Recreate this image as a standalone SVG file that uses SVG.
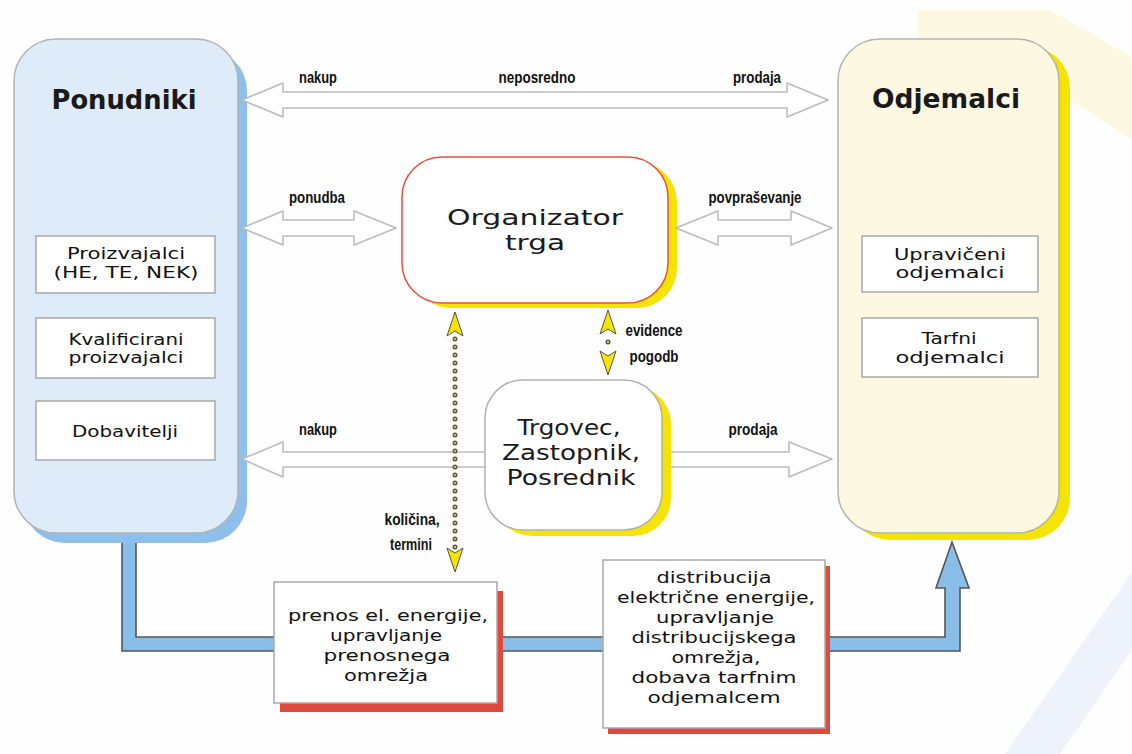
<svg xmlns="http://www.w3.org/2000/svg" width="1132" height="754" viewBox="0 0 1132 754">
<defs>
<style>
.bg{fill:#fefefe}
.big{font-family:"DejaVu Sans","Liberation Sans",sans-serif;font-weight:bold;font-size:26px;fill:#1a1a1a;text-anchor:middle}
.mid{font-family:"DejaVu Sans","Liberation Sans",sans-serif;font-size:21px;fill:#1a1a1a;text-anchor:middle}
.sm{font-family:"DejaVu Sans","Liberation Sans",sans-serif;font-size:16px;fill:#111;text-anchor:middle}
.lbl{font-family:"Liberation Sans",Arial,sans-serif;font-weight:bold;font-size:17px;fill:#111;text-anchor:middle}
.inner{fill:#ffffff;stroke:#a8a8a8;stroke-width:1.5}
.hollow{fill:#ffffff;stroke:#bcbcbc;stroke-width:1.6;stroke-linejoin:round}
.pipe{fill:#88bee8;stroke:#555;stroke-width:1.6;stroke-linejoin:miter}
.yhead{fill:#f4e400;stroke:#555;stroke-width:1}
.dots1{stroke:#555;stroke-width:5;stroke-dasharray:0 8;stroke-linecap:round;fill:none}
.dots2{stroke:#f4e400;stroke-width:2.2;stroke-dasharray:0 8;stroke-linecap:round;fill:none}
</style>
</defs>
<rect class="bg" x="0" y="0" width="1132" height="754"/>
<g id="background">
<polygon points="918,10 1050,10 1132,57 1132,140 1070,100 918,100" fill="#fdf8e1"/>
<polygon points="1005,754 1132,572 1132,650 1060,754" fill="#eef3fb"/>
</g>
<g id="pipes">
<path class="pipe" d="M122,540 L136,540 L136,637 L277,637 L277,651 L122,651 Z"/>
<path class="pipe" d="M494,637 L606,637 L606,651 L494,651 Z"/>
<path class="pipe" d="M822,637 L945,637 L945,588 L936,588 L952,542 L969,588 L960,588 L960,651 L822,651 Z"/>
</g>
<g id="ponudniki">
<rect x="23" y="49" width="224" height="494" rx="42" fill="#8cc0ea"/>
<rect x="14" y="39" width="224" height="494" rx="42" fill="#deebf8" stroke="#b3b3b3" stroke-width="1.5"/>
<text class="big" x="124" y="109" textLength="145" lengthAdjust="spacingAndGlyphs">Ponudniki</text>
</g>
<g id="proizvajalci">
<rect class="inner" x="36" y="236" width="179" height="57"/>
<text class="sm" x="126" y="259" textLength="118" lengthAdjust="spacingAndGlyphs">Proizvajalci</text>
<text class="sm" x="126" y="278" textLength="145" lengthAdjust="spacingAndGlyphs">(HE, TE, NEK)</text>
</g>
<g id="kvalificirani">
<rect class="inner" x="36" y="318" width="179" height="60"/>
<text class="sm" x="126" y="345" textLength="115" lengthAdjust="spacingAndGlyphs">Kvalificirani</text>
<text class="sm" x="126" y="363" textLength="115" lengthAdjust="spacingAndGlyphs">proizvajalci</text>
</g>
<g id="dobavitelji">
<rect class="inner" x="36" y="401" width="179" height="59"/>
<text class="sm" x="125" y="437" textLength="106" lengthAdjust="spacingAndGlyphs">Dobavitelji</text>
</g>
<g id="odjemalci">
<rect x="848" y="46" width="222" height="494" rx="42" fill="#f5e400"/>
<rect x="838" y="39" width="221" height="494" rx="42" fill="#fdf8e1" stroke="#b3b3b3" stroke-width="1.5"/>
<text class="big" x="946" y="108" textLength="148" lengthAdjust="spacingAndGlyphs">Odjemalci</text>
</g>
<g id="upraviceni">
<rect class="inner" x="862" y="236" width="176" height="56"/>
<text class="sm" x="950" y="260" textLength="112" lengthAdjust="spacingAndGlyphs">Upravičeni</text>
<text class="sm" x="950" y="278" textLength="109" lengthAdjust="spacingAndGlyphs">odjemalci</text>
</g>
<g id="tarfni">
<rect class="inner" x="862" y="318" width="176" height="59"/>
<text class="sm" x="949" y="344" textLength="55" lengthAdjust="spacingAndGlyphs">Tarfni</text>
<text class="sm" x="950" y="363" textLength="109" lengthAdjust="spacingAndGlyphs">odjemalci</text>
</g>
<g id="organizator">
<rect x="411" y="162" width="266" height="146" rx="40" fill="#f5e400"/>
<rect x="402" y="157" width="266" height="146" rx="40" fill="#ffffff" stroke="#e85040" stroke-width="1.5"/>
<text class="mid" x="535" y="225" textLength="176" lengthAdjust="spacingAndGlyphs">Organizator</text>
<text class="mid" x="535" y="250" textLength="60" lengthAdjust="spacingAndGlyphs">trga</text>
</g>
<g id="connectors">
<polygon class="hollow" points="242,100 283,83 283,92 787,92 787,83 828,100 787,117 787,108 283,108 283,117"/>
<polygon class="hollow" points="242,228 283,211 283,220 354,220 354,211 396,228 354,245 354,236 283,236 283,245"/>
<polygon class="hollow" points="676,228 718,211 718,220 791,220 791,211 832,228 791,245 791,236 718,236 718,245"/>
<polygon class="hollow" points="242,459 283,442 283,452 490,452 490,467 283,467 283,477"/>
<polygon class="hollow" points="655,452 789,452 789,442 832,459 789,477 789,467 655,467"/>
<line class="dots1" x1="455" y1="339" x2="455" y2="548"/>
<line class="dots2" x1="455" y1="339" x2="455" y2="548"/>
<polygon class="yhead" points="455,312 463,336 455,331 447,336"/>
<polygon class="yhead" points="455,572 463,548 455,553 447,548"/>
<line class="dots1" x1="608" y1="342" x2="608" y2="346"/>
<line class="dots2" x1="608" y1="342" x2="608" y2="346"/>
<polygon class="yhead" points="608,310 616,334 608,329 600,334"/>
<polygon class="yhead" points="608,375 616,351 608,356 600,351"/>
<text class="lbl" x="318" y="83" textLength="38" lengthAdjust="spacingAndGlyphs">nakup</text>
<text class="lbl" x="537" y="83" textLength="77" lengthAdjust="spacingAndGlyphs">neposredno</text>
<text class="lbl" x="757" y="83" textLength="48" lengthAdjust="spacingAndGlyphs">prodaja</text>
<text class="lbl" x="317" y="203" textLength="56" lengthAdjust="spacingAndGlyphs">ponudba</text>
<text class="lbl" x="755" y="203" textLength="93" lengthAdjust="spacingAndGlyphs">povpraševanje</text>
<text class="lbl" x="318" y="435" textLength="38" lengthAdjust="spacingAndGlyphs">nakup</text>
<text class="lbl" x="753" y="435" textLength="49" lengthAdjust="spacingAndGlyphs">prodaja</text>
<text class="lbl" x="654" y="336" textLength="57" lengthAdjust="spacingAndGlyphs">evidence</text>
<text class="lbl" x="654" y="362" textLength="49" lengthAdjust="spacingAndGlyphs">pogodb</text>
<text class="lbl" x="412" y="525" textLength="55" lengthAdjust="spacingAndGlyphs">količina,</text>
<text class="lbl" x="411" y="550" textLength="42" lengthAdjust="spacingAndGlyphs">termini</text>
</g>
<g id="trgovec">
<rect x="494" y="386" width="177" height="150" rx="38" fill="#f5e400"/>
<rect x="485" y="380" width="177" height="150" rx="38" fill="#ffffff" stroke="#b3b3b3" stroke-width="1.5"/>
<text class="mid" x="569" y="435" textLength="103" lengthAdjust="spacingAndGlyphs">Trgovec,</text>
<text class="mid" x="571" y="460" textLength="138" lengthAdjust="spacingAndGlyphs">Zastopnik,</text>
<text class="mid" x="571" y="485" textLength="129" lengthAdjust="spacingAndGlyphs">Posrednik</text>
</g>
<g id="prenos">
<rect x="280" y="591" width="223" height="121" fill="#e04a3c"/>
<rect x="274" y="582" width="223" height="121" fill="#ffffff" stroke="#a8a8a8" stroke-width="1.5"/>
<text class="sm" x="388" y="621" textLength="200" lengthAdjust="spacingAndGlyphs">prenos el. energije,</text>
<text class="sm" x="386" y="641" textLength="112" lengthAdjust="spacingAndGlyphs">upravljanje</text>
<text class="sm" x="387" y="661" textLength="127" lengthAdjust="spacingAndGlyphs">prenosnega</text>
<text class="sm" x="386" y="681" textLength="84" lengthAdjust="spacingAndGlyphs">omrežja</text>
</g>
<g id="distribucija">
<rect x="608" y="566" width="222" height="168" fill="#e04a3c"/>
<rect x="603" y="560" width="222" height="168" fill="#ffffff" stroke="#a8a8a8" stroke-width="1.5"/>
<text class="sm" x="714" y="583" textLength="115" lengthAdjust="spacingAndGlyphs">distribucija</text>
<text class="sm" x="716" y="603" textLength="198" lengthAdjust="spacingAndGlyphs">električne energije,</text>
<text class="sm" x="715" y="623" textLength="118" lengthAdjust="spacingAndGlyphs">upravljanje</text>
<text class="sm" x="714" y="643" textLength="165" lengthAdjust="spacingAndGlyphs">distribucijskega</text>
<text class="sm" x="716" y="663" textLength="89" lengthAdjust="spacingAndGlyphs">omrežja,</text>
<text class="sm" x="714" y="683" textLength="165" lengthAdjust="spacingAndGlyphs">dobava tarfnim</text>
<text class="sm" x="714" y="703" textLength="133" lengthAdjust="spacingAndGlyphs">odjemalcem</text>
</g>
</svg>
